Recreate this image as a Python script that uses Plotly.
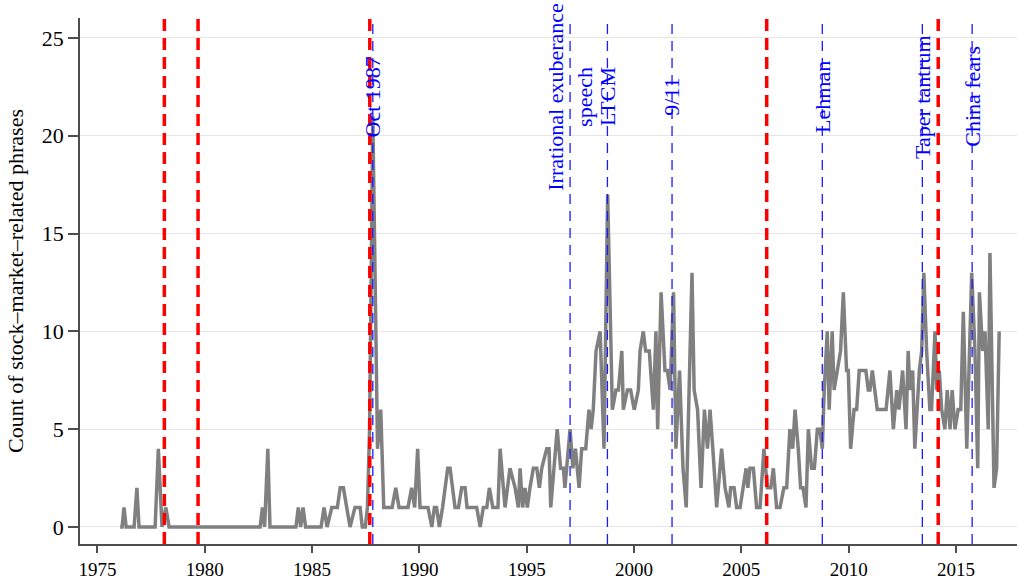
import plotly.graph_objects as go

# FOMC meeting dates (decimal years) and counts of stock-market-related phrases
dates = [
    1976.06, 1976.15, 1976.24, 1976.34, 1976.71, 1976.84, 1976.94, 1977.69, 1977.84, 1978.01,
    1978.19, 1978.34, 1982.58, 1982.69, 1982.79, 1982.94, 1983.04, 1984.25, 1984.36, 1984.47,
    1984.58, 1984.70, 1985.42, 1985.56, 1985.70, 1985.92, 1986.18, 1986.31, 1986.46, 1986.61,
    1986.77, 1987.00, 1987.24, 1987.34, 1987.48, 1987.58, 1987.68, 1987.83, 1988.05, 1988.20,
    1988.34, 1988.48, 1988.73, 1988.90, 1989.05, 1989.47, 1989.64, 1989.78, 1989.92, 1990.03,
    1990.40, 1990.58, 1990.70, 1990.80, 1990.93, 1991.08, 1991.20, 1991.32, 1991.43, 1991.66,
    1991.82, 1991.97, 1992.13, 1992.22, 1992.67, 1992.83, 1992.98, 1993.14, 1993.26, 1993.42,
    1993.66, 1993.76, 1993.99, 1994.22, 1994.46, 1994.61, 1994.69, 1994.81, 1994.92, 1995.03,
    1995.15, 1995.31, 1995.47, 1995.59, 1995.70, 1995.93, 1996.04, 1996.12, 1996.27, 1996.42,
    1996.58, 1996.71, 1996.78, 1996.86, 1997.02, 1997.15, 1997.27, 1997.44, 1997.56, 1997.75,
    1997.90, 1998.00, 1998.10, 1998.23, 1998.42, 1998.60, 1998.77, 1998.99, 1999.16, 1999.27,
    1999.43, 1999.50, 1999.69, 1999.84, 2000.01, 2000.20, 2000.28, 2000.43, 2000.54, 2000.71,
    2000.90, 2001.02, 2001.10, 2001.26, 2001.44, 2001.55, 2001.68, 2001.84, 2001.95, 2002.12,
    2002.28, 2002.43, 2002.70, 2002.80, 2002.96, 2003.12, 2003.28, 2003.42, 2003.54, 2003.67,
    2003.85, 2004.08, 2004.24, 2004.42, 2004.50, 2004.66, 2004.78, 2004.94, 2005.09, 2005.22,
    2005.30, 2005.40, 2005.56, 2005.71, 2005.87, 2006.05, 2006.21, 2006.37, 2006.49, 2006.64,
    2006.80, 2006.98, 2007.11, 2007.26, 2007.39, 2007.50, 2007.65, 2007.76, 2007.87, 2008.01,
    2008.12, 2008.27, 2008.40, 2008.54, 2008.66, 2008.77, 2008.86, 2009.00, 2009.09, 2009.23,
    2009.32, 2009.46, 2009.62, 2009.75, 2009.90, 2009.98, 2010.09, 2010.25, 2010.37, 2010.49,
    2010.65, 2010.80, 2010.91, 2010.99, 2011.10, 2011.22, 2011.33, 2011.46, 2011.61, 2011.74,
    2011.92, 2012.08, 2012.24, 2012.34, 2012.51, 2012.67, 2012.77, 2012.85, 2012.98, 2013.08,
    2013.29, 2013.40, 2013.50, 2013.63, 2013.78, 2013.86, 2014.02, 2014.10, 2014.22, 2014.33,
    2014.48, 2014.59, 2014.72, 2014.82, 2014.95, 2015.10, 2015.22, 2015.34, 2015.50, 2015.73,
    2015.88, 2016.01, 2016.09, 2016.24, 2016.35, 2016.50, 2016.58, 2016.77, 2016.89, 2017.01,
]
counts = [
    0, 0, 1, 0, 0, 2, 0, 0, 4, 0,
    1, 0, 0, 1, 0, 4, 0, 0, 1, 0,
    1, 0, 0, 1, 0, 1, 1, 2, 2, 1,
    0, 1, 1, 0, 0, 1, 5, 21, 4, 6,
    1, 1, 1, 2, 1, 1, 2, 1, 4, 1,
    1, 0, 1, 1, 0, 1, 2, 3, 3, 1,
    1, 2, 2, 1, 1, 0, 1, 1, 2, 1,
    1, 4, 1, 3, 2, 1, 3, 1, 2, 1,
    2, 3, 3, 2, 3, 4, 4, 1, 3, 5,
    3, 3, 2, 3, 5, 3, 4, 2, 4, 4,
    6, 5, 6, 9, 10, 4, 17, 6, 7, 7,
    9, 6, 7, 7, 6, 7, 9, 10, 9, 9,
    6, 10, 5, 12, 8, 8, 7, 12, 4, 8,
    3, 1, 13, 7, 6, 2, 6, 4, 6, 4,
    1, 4, 2, 1, 2, 2, 1, 1, 2, 3,
    2, 3, 3, 1, 1, 4, 2, 2, 3, 1,
    1, 2, 2, 5, 4, 6, 4, 2, 2, 1,
    5, 3, 3, 5, 5, 4, 7, 10, 6, 10,
    7, 8, 9, 12, 8, 8, 4, 6, 6, 8,
    8, 8, 7, 7, 8, 7, 6, 6, 6, 6,
    8, 5, 7, 6, 8, 5, 9, 7, 8, 4,
    8, 9, 13, 9, 6, 6, 10, 7, 8, 6,
    5, 7, 5, 7, 5, 6, 6, 11, 4, 13,
    9, 3, 12, 9, 10, 5, 14, 2, 3, 10,
]

# Fed chair transitions (red) and market events (blue)
chair_dates = [1978.12, 1979.69, 1987.69, 2006.18, 2014.17]
event_dates = [1987.83, 1997.02, 1998.76, 2001.77, 2008.77, 2013.43, 2015.75]
event_labels = ["Oct 1987", "Irrational exuberance<br>speech", "LTCM", "9/11",
                "Lehman", "Taper tantrum", "China fears"]
label_level = 22.0

x_ticks = [1975, 1980, 1985, 1990, 1995, 2000, 2005, 2010, 2015]
y_ticks = [0, 5, 10, 15, 20, 25]

serif = "Liberation Serif, Times New Roman, serif"

fig = go.Figure()

for d in chair_dates:
    fig.add_shape(type="line", xref="x", yref="paper", x0=d, x1=d, y0=0, y1=1,
                  line=dict(color="#ff0000", width=3.5, dash="12px,7px"), layer="above")
for d in event_dates:
    fig.add_shape(type="line", xref="x", yref="paper", x0=d, x1=d, y0=0, y1=1,
                  line=dict(color="#1a1aff", width=1.3, dash="10px,7px"), layer="above")

fig.add_trace(go.Scatter(x=dates, y=counts, mode="lines",
                         line=dict(color="#808080", width=3.5),
                         showlegend=False, hoverinfo="skip"))

for d, lab in zip(event_dates, event_labels):
    fig.add_annotation(x=d, y=label_level, xref="x", yref="y", text=lab,
                       showarrow=False, textangle=-90, xanchor="center", yanchor="middle",
                       align="center", font=dict(family=serif, size=22, color="#0000ff"))

fig.update_layout(
    width=1019, height=582,
    margin=dict(l=80, r=2, t=18, b=38),
    plot_bgcolor="white", paper_bgcolor="white",
    font=dict(family=serif, size=20, color="#000000"),
    showlegend=False,
)
fig.update_xaxes(range=[1974.19, 2017.84], tickmode="array", tickvals=x_ticks,
                 showgrid=False, zeroline=False, showline=True, linecolor="#4d4d4d",
                 linewidth=1.5, ticks="outside", ticklen=7, tickwidth=1.5, tickcolor="#4d4d4d",
                 automargin=False, ticklabelstandoff=0,
                 tickfont=dict(family=serif, size=19, color="#000"))
fig.update_yaxes(range=[-0.87, 26.02], tickmode="array", tickvals=y_ticks,
                 showgrid=True, gridcolor="#e6e6e6", gridwidth=1, zeroline=False,
                 showline=True, linecolor="#4d4d4d", linewidth=1.5,
                 ticks="outside", ticklen=10, tickwidth=1.5, tickcolor="#4d4d4d",
                 automargin=False,
                 tickfont=dict(family=serif, size=22, color="#000"),
                 title=dict(text="Count of stock\u2013market\u2013related phrases",
                            font=dict(family=serif, size=22, color="#000"), standoff=12))

fig.write_html("out.html")
